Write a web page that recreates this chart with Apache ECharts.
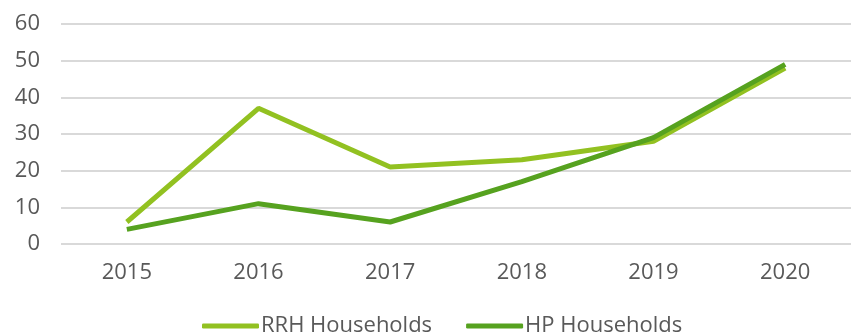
<!DOCTYPE html>
<html>
<head>
<meta charset="utf-8">
<script src="https://cdn.jsdelivr.net/npm/echarts@6/dist/echarts.min.js"></script>
<style>
  html, body { margin: 0; padding: 0; background: #fff; }
  #chart { width: 851px; height: 335px; }
</style>
</head>
<body>
<div id="chart"></div>
<script>
// Household counts by year
const years = ['2015', '2016', '2017', '2018', '2019', '2020'];
const rrhHouseholds = [6, 37, 21, 23, 28, 48];
const hpHouseholds = [4, 11, 6, 17, 29, 49];
const seriesNames = ['RRH Households', 'HP Households'];

const textColor = '#595959';
const fontFamily = '"Open Sans", "Noto Sans", sans-serif';

const chart = echarts.init(document.getElementById('chart'), null, { renderer: 'canvas' });
chart.setOption({
  animation: false,
  grid: { left: 61, right: -3, top: 24, bottom: 91, containLabel: false },
  legend: {
    bottom: -7,
    left: 197,
    itemWidth: 57,
    itemHeight: 5,
    itemGap: 34,
    icon: 'roundRect',
    textStyle: { color: textColor, fontSize: 22, fontFamily: fontFamily, padding: [0, 0, 0, -3] },
    data: seriesNames
  },
  xAxis: {
    type: 'category',
    data: years,
    boundaryGap: true,
    axisLine: { show: false },
    axisTick: { show: false },
    axisLabel: { color: textColor, fontSize: 22, fontFamily: fontFamily, margin: 18 }
  },
  yAxis: {
    type: 'value',
    min: 0,
    max: 60,
    interval: 10,
    axisLine: { show: false },
    axisTick: { show: false },
    axisLabel: { color: textColor, fontSize: 22, fontFamily: fontFamily, margin: 21 },
    splitLine: { lineStyle: { color: '#d9d9d9', width: 2 } }
  },
  series: [
    {
      name: seriesNames[0],
      type: 'line',
      data: rrhHouseholds,
      symbol: 'none',
      lineStyle: { color: '#92c121', width: 5 },
      itemStyle: { color: '#92c121' }
    },
    {
      name: seriesNames[1],
      type: 'line',
      data: hpHouseholds,
      symbol: 'none',
      lineStyle: { color: '#56a21f', width: 5 },
      itemStyle: { color: '#56a21f' }
    }
  ]
});
</script>
</body>
</html>
